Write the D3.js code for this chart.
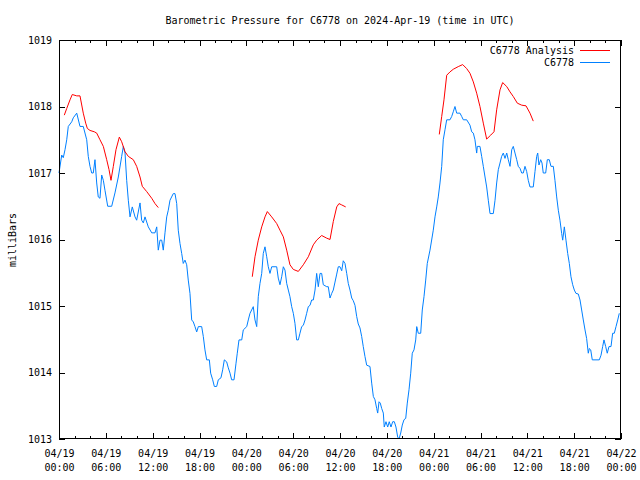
<!DOCTYPE html>
<html>
<head>
<meta charset="utf-8">
<script src="https://cdn.jsdelivr.net/npm/d3@7"></script>
<style>
html,body{margin:0;padding:0;background:#fff;}
svg{display:block;}
text{font-family:"DejaVu Sans Mono","Liberation Mono",monospace;font-size:10px;fill:#000;}
</style>
</head>
<body>
<svg id="chart" width="640" height="480"></svg>
<script>
// ---- data (hours since 2024-04-19 00:00 UTC, pressure in millibars) ----
const stationHours = [0,0.35,0.55,0.77,0.99,1.19,1.63,1.83,2.27,2.69,3.11,3.55,3.75,3.97,4.19,4.39,4.61,4.83,5.03,5.25,5.47,5.68,5.89,6.24,6.75,7.17,7.60,8.03,8.24,8.46,8.67,8.88,9.10,9.39,9.74,9.95,10.38,10.59,10.80,11.02,11.44,11.88,12.30,12.52,12.72,12.94,13.16,13.36,13.58,13.80,14.00,14.22,14.64,14.86,15.08,15.28,15.50,15.72,15.92,16.14,16.36,16.56,16.78,17.00,17.21,17.42,17.64,17.85,18.28,18.49,18.70,18.92,19.26,19.43,19.69,19.90,20.20,20.41,20.75,20.97,21.18,21.48,21.69,21.91,22.12,22.42,22.68,22.84,23.06,23.41,23.61,24.05,24.25,24.47,24.89,25.11,25.33,25.53,25.75,25.97,26.17,26.39,26.61,26.81,27.03,27.25,27.89,28.09,28.31,28.53,28.74,28.95,29.17,29.38,29.59,29.81,30.02,30.23,30.45,30.66,30.87,31.09,31.30,31.52,31.73,31.94,32.16,32.37,32.58,32.80,33.01,33.22,33.44,33.65,33.86,34.30,34.50,34.72,34.94,35.14,35.36,35.58,35.78,36.00,36.22,36.42,36.64,36.86,37.06,37.28,37.50,37.70,37.92,38.14,38.34,38.56,38.78,38.98,39.20,39.42,39.84,40.06,40.27,40.48,40.70,40.83,41.00,41.16,41.34,41.55,41.67,41.89,42.11,42.31,42.53,42.75,42.96,43.17,43.39,43.56,43.78,43.98,44.20,44.42,44.62,44.84,45.06,45.26,45.48,45.70,45.83,46.03,46.34,46.54,46.76,46.98,47.18,47.53,47.95,48.17,48.39,48.59,48.81,49.03,49.23,49.45,49.67,50.09,50.31,50.51,50.73,50.95,51.37,51.59,51.80,52.23,52.65,52.87,53.08,53.29,53.51,53.59,53.93,54.15,54.36,54.58,54.79,55.00,55.22,55.64,55.86,56.07,56.28,56.50,56.71,56.92,57.14,57.36,57.56,57.78,58.00,58.20,58.42,58.64,58.84,59.06,59.28,59.48,59.70,59.92,60.12,60.34,60.76,60.98,61.20,61.33,61.49,61.71,61.88,62.04,62.35,62.56,62.81,63.03,63.33,63.54,63.76,63.97,64.18,64.40,64.53,64.74,64.95,65.17,65.38,65.59,65.81,66.02,66.23,66.53,66.75,66.96,67.17,67.39,67.60,67.81,67.94,68.12,68.32,69.22,69.44,69.65,69.82,70.04,70.24,70.46,70.72,70.93,71.14,71.36,71.58,71.78];
const stationPressure = [1017.00,1017.27,1017.23,1017.35,1017.50,1017.70,1017.77,1017.83,1017.90,1017.70,1017.70,1017.50,1017.25,1017.10,1017.00,1017.00,1017.20,1016.85,1016.64,1016.62,1016.97,1016.89,1016.74,1016.50,1016.50,1016.70,1016.94,1017.25,1017.40,1017.30,1016.89,1016.59,1016.34,1016.49,1016.34,1016.29,1016.55,1016.29,1016.25,1016.34,1016.19,1016.10,1016.10,1016.19,1015.84,1015.99,1015.99,1015.84,1016.10,1016.34,1016.44,1016.59,1016.69,1016.69,1016.54,1016.14,1015.94,1015.79,1015.64,1015.69,1015.62,1015.39,1015.19,1014.79,1014.76,1014.69,1014.61,1014.69,1014.69,1014.54,1014.34,1014.19,1014.19,1013.99,1013.89,1013.79,1013.79,1013.89,1013.92,1014.04,1014.19,1014.16,1014.07,1013.99,1013.89,1013.89,1014.14,1014.29,1014.49,1014.49,1014.64,1014.69,1014.79,1014.89,1014.99,1014.79,1014.69,1015.14,1015.34,1015.49,1015.79,1015.89,1015.74,1015.59,1015.49,1015.59,1015.59,1015.42,1015.32,1015.44,1015.59,1015.54,1015.34,1015.24,1015.14,1014.99,1014.89,1014.74,1014.49,1014.49,1014.59,1014.69,1014.71,1014.79,1014.89,1014.99,1015.01,1015.09,1015.09,1015.24,1015.49,1015.29,1015.49,1015.49,1015.32,1015.29,1015.29,1015.12,1015.19,1015.24,1015.36,1015.48,1015.59,1015.59,1015.53,1015.68,1015.64,1015.49,1015.34,1015.24,1015.12,1015.08,1015.01,1014.84,1014.73,1014.67,1014.54,1014.39,1014.24,1014.11,1014.09,1013.84,1013.64,1013.59,1013.46,1013.39,1013.56,1013.54,1013.46,1013.39,1013.18,1013.26,1013.18,1013.26,1013.18,1013.26,1013.26,1013.18,1013.03,1013.00,1013.09,1013.21,1013.29,1013.31,1013.54,1013.74,1013.99,1014.29,1014.34,1014.49,1014.69,1014.59,1014.59,1014.94,1015.14,1015.39,1015.64,1015.84,1016.14,1016.34,1016.49,1016.64,1016.85,1017.10,1017.50,1017.65,1017.80,1017.80,1017.85,1017.92,1018.00,1017.90,1017.90,1017.85,1017.80,1017.80,1017.72,1017.62,1017.60,1017.50,1017.30,1017.40,1017.40,1017.25,1017.10,1016.94,1016.79,1016.59,1016.39,1016.39,1016.59,1016.85,1017.05,1017.15,1017.25,1017.30,1017.22,1017.30,1017.20,1017.10,1017.35,1017.40,1017.30,1017.20,1017.10,1017.07,1017.00,1017.00,1017.10,1017.02,1016.89,1016.79,1016.79,1017.02,1017.25,1017.30,1017.12,1017.20,1017.15,1017.00,1017.00,1017.20,1017.20,1017.10,1017.10,1016.89,1016.64,1016.44,1016.29,1016.09,1015.99,1016.19,1015.99,1015.79,1015.64,1015.44,1015.32,1015.24,1015.19,1015.18,1015.09,1014.94,1014.79,1014.64,1014.51,1014.29,1014.36,1014.34,1014.19,1014.19,1014.26,1014.39,1014.49,1014.39,1014.29,1014.39,1014.39,1014.59,1014.59,1014.69,1014.79,1014.89];

// analysis series: null marks a gap between runs
const analysisHours = [0.68,0.99,1.41,1.70,2.27,2.69,3.11,3.42,3.63,3.97,4.52,4.83,5.25,5.68,6.11,6.41,6.66,6.96,7.30,7.73,8.03,8.46,8.88,9.52,9.95,10.38,10.67,11.24,11.88,12.30,12.72,
  null,
  24.76,25.11,25.53,25.97,26.39,26.69,27.25,27.89,28.31,28.74,29.17,29.59,30.02,30.66,31.30,31.94,32.58,33.01,33.65,34.30,34.72,35.14,35.58,35.87,36.22,36.73,
  null,
  48.72,49.03,49.32,49.67,50.09,50.51,51.15,51.72,52.23,52.65,53.08,53.51,53.93,54.36,54.79,55.31,55.73,56.07,56.50,56.84,57.36,57.78,58.20,58.72,59.28,59.83,60.34,60.76];
const analysisPressure = [1017.87,1017.97,1018.10,1018.18,1018.16,1018.16,1017.90,1017.75,1017.67,1017.64,1017.62,1017.60,1017.50,1017.40,1017.20,1017.05,1016.89,1017.10,1017.35,1017.54,1017.47,1017.32,1017.25,1017.20,1017.10,1016.94,1016.80,1016.72,1016.62,1016.54,1016.48,
  null,
  1015.44,1015.74,1015.99,1016.19,1016.34,1016.42,1016.34,1016.24,1016.14,1016.04,1015.84,1015.62,1015.55,1015.52,1015.62,1015.74,1015.92,1015.99,1016.06,1016.02,1016.00,1016.27,1016.49,1016.54,1016.52,1016.49,
  null,
  1017.58,1017.85,1018.10,1018.47,1018.52,1018.56,1018.60,1018.63,1018.57,1018.50,1018.37,1018.20,1018.00,1017.75,1017.51,1017.57,1017.62,1017.95,1018.25,1018.36,1018.30,1018.22,1018.15,1018.05,1018.02,1018.01,1017.90,1017.78];

const majorHourTicks = [0,6,12,18,24,30,36,42,48,54,60,66,72];
const xTickDates = ["04/19","04/19","04/19","04/19","04/20","04/20","04/20","04/20","04/21","04/21","04/21","04/21","04/22"];
const xTickTimes = ["00:00","06:00","12:00","18:00","00:00","06:00","12:00","18:00","00:00","06:00","12:00","18:00","00:00"];
const minorHourTicks = d3.range(0, 73, 2);
const yTicks = [1013,1014,1015,1016,1017,1018,1019];

const titleText = "Barometric Pressure for C6778 on 2024-Apr-19 (time in UTC)";
const yLabel = "milliBars";
const seriesNames = ["C6778 Analysis", "C6778"];
const seriesColors = ["#ff0000", "#0080ff"];

// ---- layout ----
const L = 59, R = 621, T = 40, B = 439;
const svg = d3.select("#chart");
const x = d3.scaleLinear().domain([0, 72]).range([L, R]);
const y = d3.scaleLinear().domain([1013, 1019]).range([B, T]);

svg.append("rect").attr("width", 640).attr("height", 480).attr("fill", "#fff");

// title
svg.append("text").attr("x", 340).attr("y", 23.5).attr("text-anchor", "middle").text(titleText);

// y label
svg.append("text").attr("transform", "translate(15.5,240) rotate(-90)")
  .attr("text-anchor", "middle").text(yLabel);

function styleAxis(g) {
  g.attr("font-size", null).attr("font-family", null);
  g.select(".domain").remove();
  g.selectAll(".tick line").attr("stroke", "#000").attr("shape-rendering", "crispEdges");
}

// bottom major / minor
svg.append("g").attr("transform", `translate(0,${B})`)
  .call(d3.axisBottom(x).tickValues(minorHourTicks).tickSize(-3).tickFormat(""))
  .call(styleAxis);
const bx = svg.append("g").attr("transform", `translate(0,${B})`)
  .call(d3.axisBottom(x).tickValues(majorHourTicks).tickSize(-6).tickFormat(""))
  .call(styleAxis);
bx.selectAll(".tick").each(function(d, i) {
  const t = d3.select(this).append("text").attr("text-anchor", "middle").attr("fill", "#000");
  t.append("tspan").attr("x", 0).attr("y", 18).text(xTickDates[i]);
  t.append("tspan").attr("x", 0).attr("y", 32).text(xTickTimes[i]);
});
// top mirror
svg.append("g").attr("transform", `translate(0,${T})`)
  .call(d3.axisTop(x).tickValues(minorHourTicks).tickSize(-3).tickFormat(""))
  .call(styleAxis);
svg.append("g").attr("transform", `translate(0,${T})`)
  .call(d3.axisTop(x).tickValues(majorHourTicks).tickSize(-6).tickFormat(""))
  .call(styleAxis);

// left / right
svg.append("g").attr("transform", `translate(${L},0)`)
  .call(d3.axisLeft(y).tickValues(yTicks).tickSize(-6).tickPadding(7).tickFormat(d3.format("d")))
  .call(styleAxis);
svg.append("g").attr("transform", `translate(${R},0)`)
  .call(d3.axisRight(y).tickValues(yTicks).tickSize(-6).tickFormat(""))
  .call(styleAxis);

// series
const stationData = stationHours.map((h, i) => ({h, p: stationPressure[i]}));
const analysisData = analysisHours.map((h, i) => ({h, p: analysisPressure[i]}));
const line = d3.line().defined(d => d.h !== null && d.p !== null).x(d => x(d.h)).y(d => y(d.p));

svg.append("path").datum(stationData).attr("fill", "none").attr("stroke", seriesColors[1])
  .attr("stroke-width", 1).attr("d", line);
svg.append("path").datum(analysisData).attr("fill", "none").attr("stroke", seriesColors[0])
  .attr("stroke-width", 1).attr("d", line);

// frame
svg.append("rect").attr("x", L + 0.5).attr("y", T + 0.5).attr("width", R - L - 1).attr("height", B - T - 1)
  .attr("fill", "none").attr("stroke", "#000").attr("stroke-width", 1);

// legend
const leg = svg.append("g");
seriesNames.forEach((name, i) => {
  const yy = 50 + i * 12;
  leg.append("text").attr("x", 574).attr("y", yy + 3.5).attr("text-anchor", "end").text(name);
  leg.append("line").attr("x1", 580).attr("x2", 610).attr("y1", yy + 0.5).attr("y2", yy + 0.5)
    .attr("stroke", seriesColors[i]).attr("stroke-width", 1);
});
</script>
</body>
</html>
